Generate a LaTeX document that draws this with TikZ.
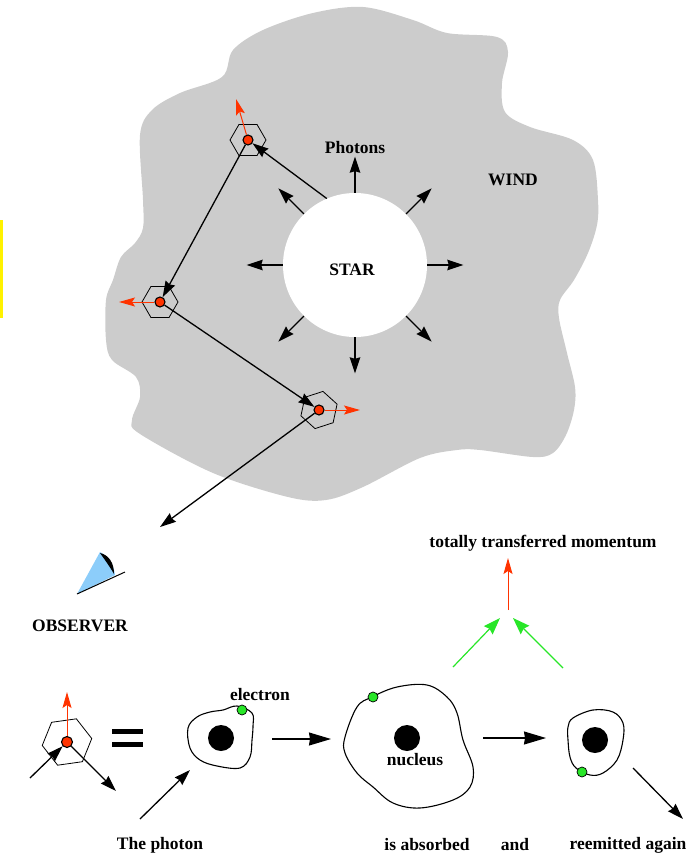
\documentclass[tikz,border=0pt]{standalone}
\usepackage{fontspec}
\setmainfont{Liberation Serif}
\usetikzlibrary{arrows.meta,shapes.geometric,calc}

\definecolor{windgray}{RGB}{204,204,204}
\definecolor{photred}{RGB}{255,51,0}
\definecolor{elgreen}{RGB}{40,230,40}
\definecolor{eyeblue}{RGB}{140,205,250}

\begin{document}
\begin{tikzpicture}[x=1pt,y=-1pt,
  lbl/.style={font=\fontsize{17.5}{20}\selectfont\bfseries, inner sep=0},
  ray/.style={line width=1.3pt,-{Stealth[length=16pt,width=10.5pt,inset=1.5pt]}},
  bigray/.style={line width=1.3pt,-{Stealth[length=22pt,width=13pt,inset=1pt]}},
  redray/.style={photred,line width=1pt,-{Stealth[length=16pt,width=9pt,inset=3pt]}},
  greenray/.style={elgreen,line width=1.2pt,-{Stealth[length=17pt,width=12pt,inset=2pt]}},
  hexa/.style={regular polygon,regular polygon sides=6,draw,line width=0.8pt,inner sep=0},
  reddot/.style={circle,fill=photred,draw,line width=1.1pt,minimum size=10pt,inner sep=0},
  atomline/.style={draw,line width=1.1pt},
  nucleus/.style={circle,fill=black,minimum size=26pt,inner sep=0},
  electron/.style={circle,fill=elgreen,draw,line width=0.7pt,minimum size=10pt,inner sep=0}]
\useasboundingbox (0,0) rectangle (690,856);

% yellow edge mark
\fill[yellow] (0,220) rectangle (2.5,318);

% stellar wind cloud
\fill[windgray] plot[smooth cycle,tension=0.55] coordinates {
  (180,93) (222,77) (233,50) (263,30) (313,13) (363,7) (413,20) (447,33)
  (497,37) (508,52) (502,83) (505,112) (530,127) (573,140) (593,160)
  (598,200) (597,225) (588,253) (574,280) (560,300) (559,318) (567,353)
  (575,387) (574,410) (566,435) (553,453) (533,457) (480,450) (457,450)
  (420,458) (363,487) (326,500) (288,497) (213,473) (140,434) (132,420)
  (140,397) (136,377) (112,360) (106,340) (106,300) (113,280) (121,257)
  (135,243) (143,228) (143,200) (140,135) (152,110)};

% the star and its radiation
\node[circle,fill=white,minimum size=144pt,inner sep=0] (star) at (355,265) {};
\foreach \a in {0,45,...,315}
  \draw[ray] (star.\a) -- ($(star.center)!1.5!(star.\a)$);
\node[lbl] (starlbl) at (352,270) {STAR};
\node[lbl] (photons) at (355,148) {Photons};
\node[lbl] (wind) at (513,180) {WIND};

% scattering sites in the wind
\node[hexa,minimum size=36pt] (h1) at (248,140) {};
\node[hexa,minimum size=36pt] (h2) at (160,302) {};
\node[hexa,minimum size=38pt,rotate=18] (h3) at (319,410) {};
\coordinate (r1) at (236,99);
\coordinate (r2) at (119,302);
\coordinate (r3) at (360,410);
\coordinate (eye) at (160,527);

\node[reddot] (d1) at (248,140) {};
\node[reddot] (d2) at (160,302) {};
\node[reddot] (d3) at (319,410) {};

% photon random walk
\draw[ray] (star.113) -- (d1);
\draw[ray] (d1) -- (d2);
\draw[ray] (d2) -- (d3);
\draw[ray] (d3) -- (eye);

% momentum kicks
\draw[redray] (d1) -- (r1);
\draw[redray] (d2) -- (r2);
\draw[redray] (d3) -- (r3);

% observer's eye
\fill[eyeblue] (77,594) -- (100,552) .. controls (108,556) and (114,565) .. (115,575) -- cycle;
\fill[black] (100,553) .. controls (109,555) and (114,563) .. (114,574)
  .. controls (110,567) and (105,560) .. cycle;
\coordinate (eyeA) at (77,594);
\coordinate (eyeB) at (125,572);
\draw[line width=1pt] (eyeA) -- (eyeB);
\node[lbl] (observer) at (80,626) {OBSERVER};

% single scattering event, enlarged
\node[hexa,minimum size=50pt,rotate=8] (h4) at (67,742) {};
\coordinate (p4in) at (30,778);
\coordinate (p4out) at (116,791);
\coordinate (r4) at (67,692);
\draw[redray] (67,742) -- (r4);
\node[reddot,minimum size=11pt] (d4) at (67,742) {};
\draw[ray] (p4in) -- (d4);
\draw[ray] (d4) -- (p4out);

% equals sign
\fill (112,729) rectangle (143,734);
\fill (112,742) rectangle (143,747);

% atom before absorption
\draw[atomline] plot[smooth cycle,tension=0.6] coordinates {
  (188,728) (197,717) (210,712) (223,710) (237,706) (252,713) (253,726)
  (252,740) (250,757) (240,768) (217,766) (200,760) (190,748)};
\node[nucleus] (n1) at (221,738) {};
\node[electron] (e1) at (242,710) {};
\node[lbl] (electronlbl) at (260,695) {electron};
\coordinate (ph1a) at (140,819);
\coordinate (ph1b) at (190,770);
\draw[ray] (ph1a) -- (ph1b);

% excited atom
\draw[atomline] plot[smooth cycle,tension=0.6] coordinates {
  (345,737) (357,707) (372,697) (397,687) (427,685) (447,697) (457,713)
  (463,740) (473,767) (470,787) (453,800) (420,808) (393,803) (373,787)
  (357,773) (345,753)};
\node[nucleus] (n2) at (407,738) {};
\node[electron] (e2) at (373,697) {};
\node[lbl] (nucleuslbl) at (415,760) {nucleus};

% atom after reemission
\draw[atomline] plot[smooth cycle,tension=0.6] coordinates {
  (568,727) (573,718) (593,710) (613,712) (623,723) (623,740) (617,760)
  (603,773) (590,775) (576,768) (570,757) (568,740)};
\node[nucleus] (n3) at (595,740) {};
\node[electron] (e3) at (582,772) {};

% sequence arrows
\coordinate (s1a) at (272,739);
\coordinate (s1b) at (331,739);
\coordinate (s2a) at (483,738);
\coordinate (s2b) at (546,738);
\draw[bigray] (s1a) -- (s1b);
\draw[bigray] (s2a) -- (s2b);
\coordinate (ph3a) at (633,768);
\coordinate (ph3b) at (683,819);
\draw[ray] (ph3a) -- (ph3b);

% momentum balance
\coordinate (gl) at (453,667);
\coordinate (glt) at (500,618);
\coordinate (gr) at (563,668);
\coordinate (grt) at (513,618);
\coordinate (mom0) at (508,610);
\coordinate (mom1) at (508,558);
\draw[greenray] (gl) -- (glt);
\draw[greenray] (gr) -- (grt);
\draw[redray] (mom0) -- (mom1);
\node[lbl] (momlbl) at (543,543) {totally transferred momentum};

% captions
\node[lbl] (cap1) at (160,845) {The photon};
\node[lbl] (cap2) at (427,845) {is absorbed};
\node[lbl] (cap3) at (515,845) {and};
\node[lbl] (cap4) at (628,845) {reemitted again};
\end{tikzpicture}
\end{document}
